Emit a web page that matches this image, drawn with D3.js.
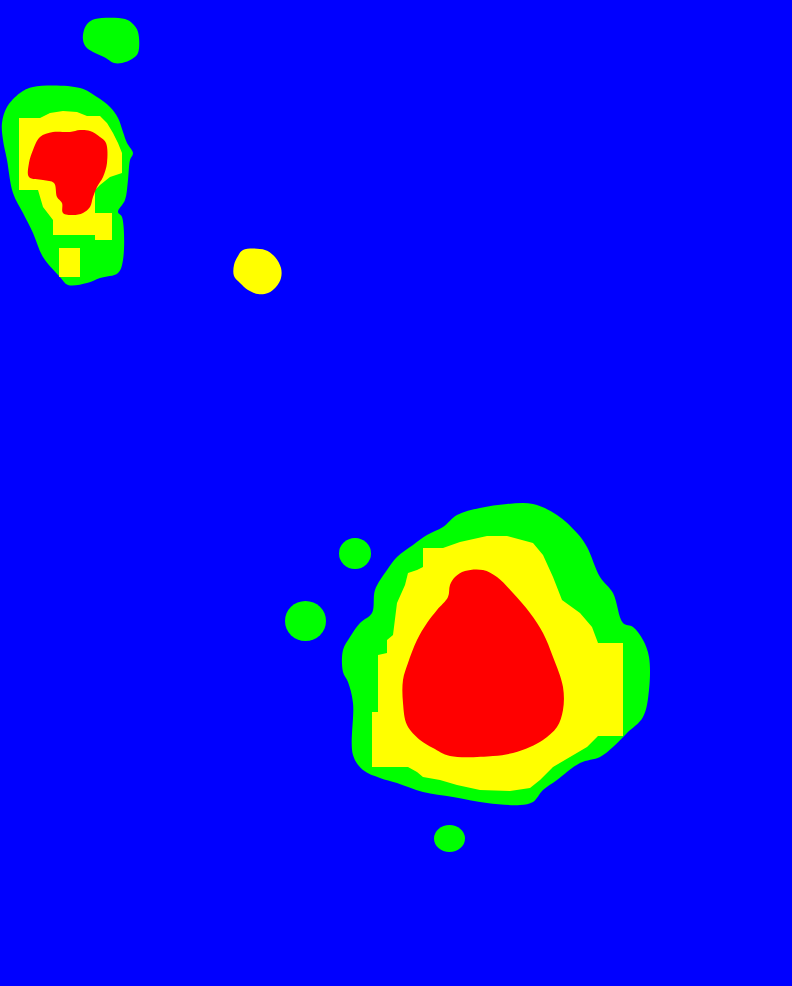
<!DOCTYPE html>
<html><head><meta charset="utf-8">
<script src="https://cdn.jsdelivr.net/npm/d3@7"></script>
<style>html,body{margin:0;padding:0;background:#0000ff;}svg{display:block;}</style>
</head><body>
<script>
// Contour levels (low to high)
const levels = ["low", "mid", "high"];
const levelColors = ["#00ff00", "#ffff00", "#ff0000"];

// Region outlines (x, y in image data units)
const greenTopBlob = [[95,19],[125,19],[133,24],[138,32],[138,53],[132,59],[122,63],[114,63],[104,57],[93,52],[86,47],[83,40],[84,30],[88,23]];
const greenNW = [[33,87],[80,88],[97,97],[110,107],[118,118],[123,132],[127,143],[133,153],[130,160],[128,180],[125,200],[118,212],[122,217],[123,260],[118,273],[100,278],[87,283],[68,285],[60,277],[43,257],[33,233],[23,213],[13,193],[7,160],[3,140],[2,123],[7,107],[20,93]];
const yellowNW = [[19,118],[40,118],[50,113],[63,111],[77,112],[87,116],[100,116],[107,123],[113,133],[118,143],[122,153],[122,173],[110,177],[100,185],[95,190],[95,213],[112,213],[112,240],[95,240],[95,235],[53,235],[53,220],[43,207],[38,190],[19,190]];
const yellowNWBox = [[59,248],[80,248],[80,277],[59,277]];
const redNW = [[40,137],[53,132],[70,132],[80,130],[90,131],[100,137],[106,143],[107,163],[103,177],[97,187],[93,197],[90,207],[83,213],[73,215],[63,213],[62,203],[57,197],[54,183],[43,180],[29,177],[29,163],[33,150]];
const yellowDot = [[243,250],[265,250],[275,257],[281,268],[281,278],[276,287],[268,293],[258,294],[248,290],[240,283],[234,276],[234,265],[238,256]];
const greenSE = [[457,515],[480,508],[507,504],[533,504],[557,515],[577,533],[587,547],[600,577],[613,593],[623,623],[633,627],[643,640],[649,657],[649,690],[643,717],[627,733],[613,747],[600,757],[580,763],[557,780],[543,790],[533,802],[520,805],[487,803],[453,797],[423,792],[397,783],[380,778],[363,770],[353,755],[353,703],[348,682],[343,672],[343,650],[350,637],[360,623],[372,613],[375,590],[387,570],[397,557],[413,545],[427,535],[443,527]];
const yellowSE = [[423,548],[443,548],[460,542],[487,536],[507,536],[533,543],[543,555],[553,577],[562,600],[580,613],[592,627],[598,643],[623,643],[623,736],[598,736],[587,747],[570,757],[553,767],[540,780],[530,788],[510,791],[480,790],[457,785],[440,780],[423,777],[417,772],[408,767],[372,767],[372,712],[378,712],[378,655],[387,653],[387,640],[393,635],[397,603],[405,585],[408,573],[417,570],[423,567]];
const redSE = [[465,571],[483,570],[497,577],[513,593],[530,613],[543,633],[553,657],[563,687],[563,710],[557,727],[543,740],[530,747],[513,753],[493,756],[450,756],[433,748],[420,740],[407,725],[403,703],[403,680],[408,663],[417,640],[427,623],[437,610],[448,597],[450,585],[455,577]];
// Small round spots: [cx, cy, rx, ry]
const greenSpots = [[355,553.5,16,15.5],[305.5,621,20.5,20],[449.5,838.5,15.5,13.5]];

// Shape table: [outline, level index, smooth?]
const shapes = [
  {pts: greenTopBlob, lvl: 0, smooth: true},
  {pts: greenNW, lvl: 0, smooth: true},
  {pts: yellowNW, lvl: 1, smooth: false},
  {pts: yellowNWBox, lvl: 1, smooth: false},
  {pts: redNW, lvl: 2, smooth: true},
  {pts: yellowDot, lvl: 1, smooth: true},
  {pts: greenSE, lvl: 0, smooth: true},
  {pts: yellowSE, lvl: 1, smooth: false},
  {pts: redSE, lvl: 2, smooth: true}
];

const W = 792, H = 986;
const x = d3.scaleLinear().domain([0, 792]).range([0, W]);
const y = d3.scaleLinear().domain([0, 986]).range([0, H]);
const color = d3.scaleOrdinal().domain(levels).range(levelColors);

const svg = d3.select("body").append("svg").attr("width", W).attr("height", H);
svg.append("rect").attr("width", W).attr("height", H).attr("fill", "#0000ff");

const smoothLine = d3.line().x(d => x(d[0])).y(d => y(d[1])).curve(d3.curveCatmullRomClosed.alpha(0.5));
const sharpLine = d3.line().x(d => x(d[0])).y(d => y(d[1])).curve(d3.curveLinearClosed);

svg.selectAll("ellipse.spot").data(greenSpots).join("ellipse")
  .attr("class", "spot")
  .attr("cx", d => x(d[0])).attr("cy", d => y(d[1]))
  .attr("rx", d => x(d[2]) - x(0)).attr("ry", d => y(d[3]) - y(0))
  .attr("fill", color(levels[0]));

svg.selectAll("path.region").data(shapes).join("path")
  .attr("class", "region")
  .attr("d", d => (d.smooth ? smoothLine : sharpLine)(d.pts))
  .attr("fill", d => color(levels[d.lvl]));
</script>
</body></html>
